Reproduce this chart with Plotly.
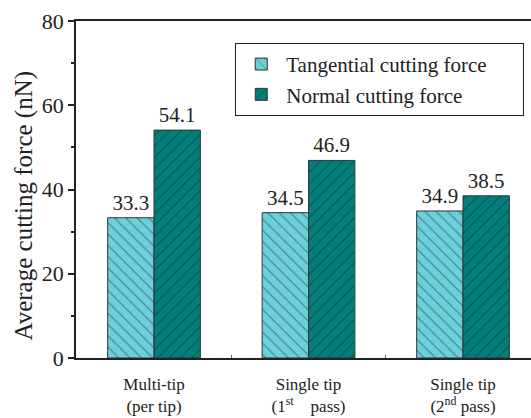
import plotly.graph_objects as go

categories = ["Multi-tip<br>(per tip)", "Single tip<br>(1<sup>st</sup>    pass)", "Single tip<br>(2<sup>nd</sup> pass)"]
tangential = [33.3, 34.5, 34.9]
normal = [54.1, 46.9, 38.5]
series_names = ["Tangential cutting force", "Normal cutting force"]
y_ticks = [0, 20, 40, 60, 80]
y_title = "Average cutting force (nN)"

xpos = list(range(len(categories)))
FONT = "Liberation Serif"
PAD = "\u00a0" * 6  # widens the legend box to the right edge, as in the reference

fig = go.Figure()
fig.add_trace(go.Bar(
    x=xpos, y=tangential, name=series_names[0] + PAD,
    marker=dict(color="#6ccfdc", line=dict(color="#333333", width=1),
                pattern=dict(shape="\\", fgcolor="#1a1a1a", size=8, solidity=0.12)),
    text=[f"{v:.1f}" for v in tangential], textposition="outside",
    textfont=dict(family=FONT, size=21, color="#222"), cliponaxis=False,
))
fig.add_trace(go.Bar(
    x=xpos, y=normal, name=series_names[1],
    marker=dict(color="#007f7b", line=dict(color="#333333", width=1),
                pattern=dict(shape="/", fgcolor="#1a1a1a", size=8, solidity=0.12)),
    text=[f"{v:.1f}" for v in normal], textposition="outside",
    textfont=dict(family=FONT, size=21, color="#222"), cliponaxis=False,
))

fig.add_annotation(text=y_title, xref="paper", yref="paper", x=0, y=0.5,
                   xanchor="center", yanchor="middle", xshift=-53, yshift=-16,
                   textangle=-90, showarrow=False,
                   font=dict(family=FONT, size=25, color="#222"))

fig.update_layout(
    width=531, height=418,
    margin=dict(l=76, r=0, t=21, b=60, autoexpand=False),
    paper_bgcolor="white", plot_bgcolor="white",
    barmode="group", bargap=0.4, bargroupgap=0,
    font=dict(family=FONT, color="#222"),
    showlegend=True,
    legend=dict(x=0.35, y=0.935, xanchor="left", yanchor="top",
                bordercolor="#222", borderwidth=1, bgcolor="white",
                font=dict(family=FONT, size=21, color="#222"),
                tracegroupgap=0, itemwidth=40),
    xaxis=dict(range=[-0.505, 2.44], tickvals=xpos, ticktext=categories,
               ticks="", showline=True, linecolor="#222", linewidth=1.5,
               mirror=True, showgrid=False, zeroline=False, automargin=False,
               tickfont=dict(family=FONT, size=17, color="#222"),
               ticklabelstandoff=10,
               minor=dict(tickvals=[0.5, 1.5], ticks="inside", ticklen=3,
                          tickcolor="#666")),
    yaxis=dict(range=[0, 80], tickvals=y_ticks, ticks="outside", ticklen=6,
               tickcolor="#222", tickwidth=1.5, automargin=False,
               showline=True, linecolor="#222", linewidth=1.5,
               showgrid=False, zeroline=False,
               tickfont=dict(family=FONT, size=22, color="#222"),
               minor=dict(tickvals=[10, 30, 50, 70], ticks="outside",
                          ticklen=3, tickcolor="#222")),
)

fig.write_html("out.html", config={"responsive": False, "displayModeBar": False},
               post_script="document.body.style.margin='0';document.body.style.overflow='hidden';")
